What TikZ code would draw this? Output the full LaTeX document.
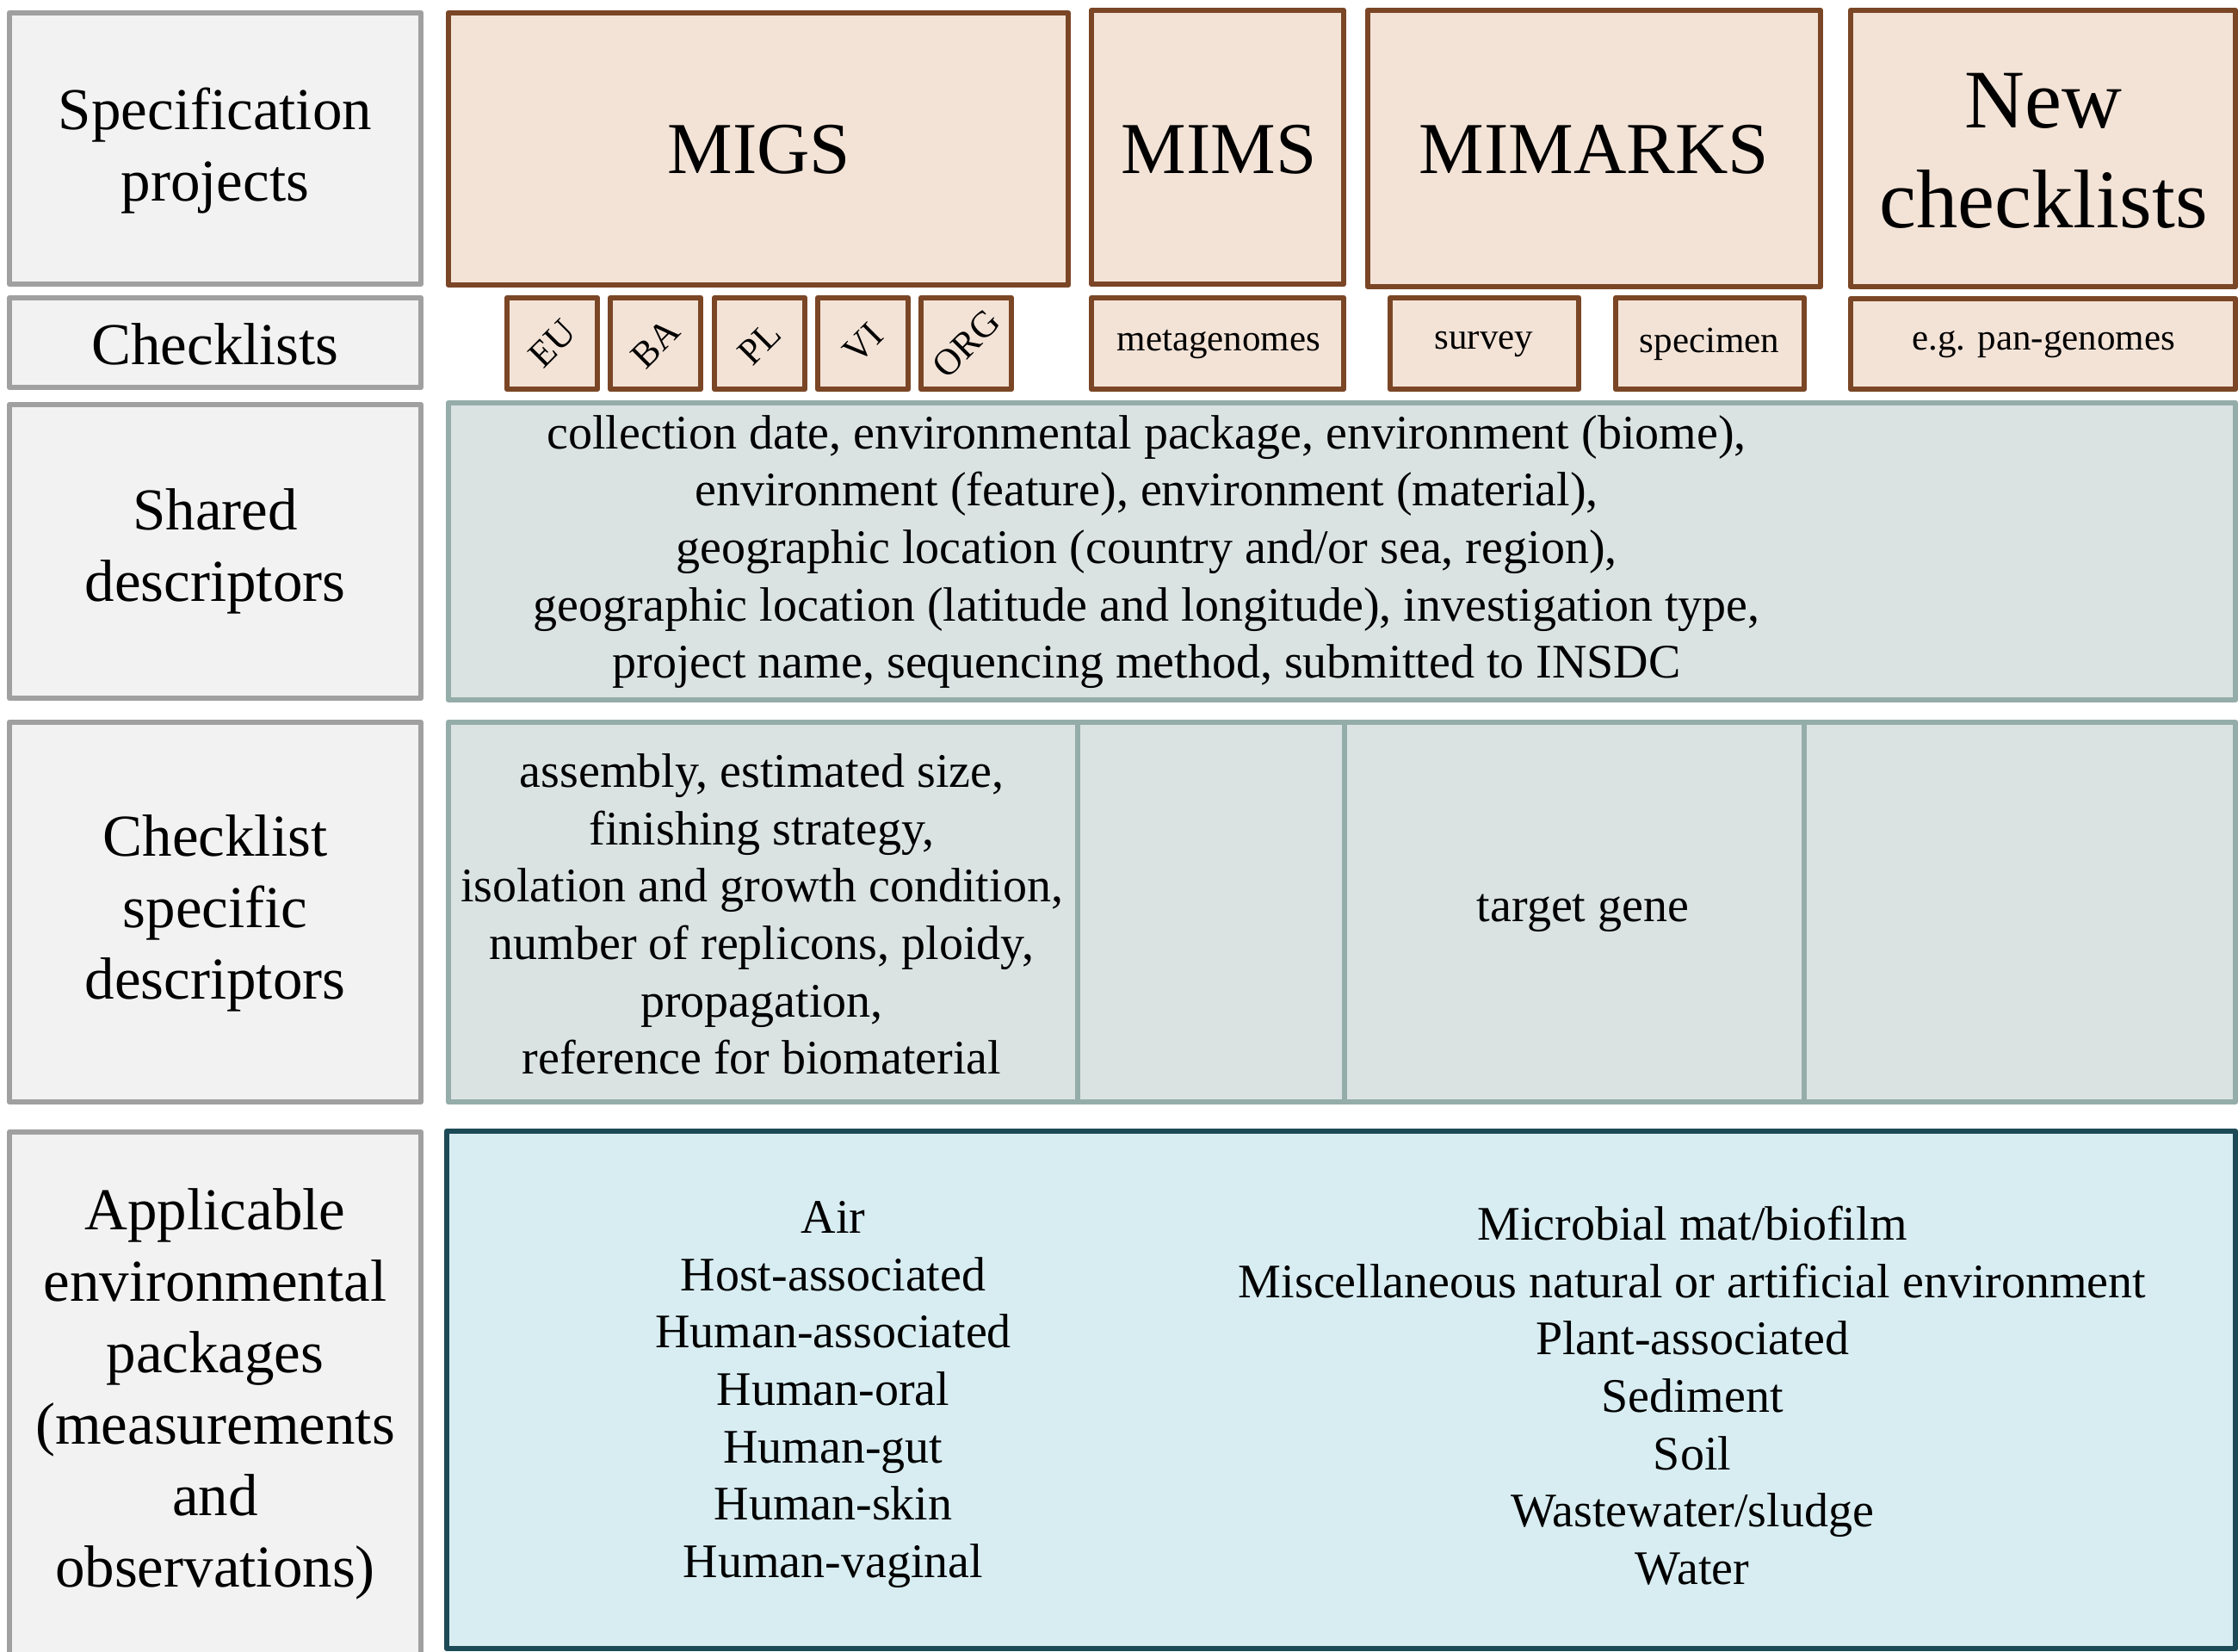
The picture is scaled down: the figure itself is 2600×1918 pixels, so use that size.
\documentclass[tikz,border=0pt]{standalone}
\usepackage{fontspec}
\setmainfont{Liberation Serif}
\usepackage{tikz}

\begin{document}
\begin{tikzpicture}[x=0.3pt,y=-0.3pt,
  rowhead/.style={draw=headDraw,line width=1.95pt,line join=round,fill=headFill},
  projbox/.style={draw=projDraw,line width=1.95pt,line join=round,fill=projFill},
  descbox/.style={draw=descDraw,line width=1.95pt,line join=round,fill=descFill},
  envbox/.style={draw=envDraw,line width=1.95pt,line join=round,fill=envFill},
  lbltext/.style={align=center,inner sep=0pt,font=\fontsize{20.7}{24.9}\selectfont},
  projtext/.style={align=center,inner sep=0pt,font=\fontsize{25.5}{30}\selectfont},
  newtext/.style={align=center,inner sep=0pt,font=\fontsize{29}{34.8}\selectfont},
  tagtext/.style={inner sep=0pt,font=\fontsize{12.9}{15}\selectfont},
  desctext/.style={align=center,inner sep=0pt,font=\fontsize{16.8}{20}\selectfont}]
\definecolor{headDraw}{RGB}{160,160,160}
\definecolor{headFill}{RGB}{242,242,242}
\definecolor{projDraw}{RGB}{122,70,38}
\definecolor{projFill}{RGB}{243,227,215}
\definecolor{descDraw}{RGB}{149,173,168}
\definecolor{descFill}{RGB}{218,227,226}
\definecolor{envDraw}{RGB}{28,74,86}
\definecolor{envFill}{RGB}{216,237,242}
\path[use as bounding box,fill=white] (0,0) rectangle (2600,1918);
\begin{scope}
\path[clip] (0,0) rectangle (2600,1918);

% row headings
\path[rowhead] (11,  15) rectangle (489, 330);
\path[rowhead] (11, 346) rectangle (489, 450);
\path[rowhead] (11, 470) rectangle (489, 811);
\path[rowhead] (11, 839) rectangle (489,1280);
\path[rowhead] (11,1315) rectangle (489,1940);

\node[lbltext] (hSpec) at (250, 175) {Specification\\projects};
\node[lbltext] (hList) at (250, 400) {Checklists};
\node[lbltext] (hShared) at (250, 640) {Shared\\descriptors};
\node[lbltext] (hSpecific) at (250,1061) {Checklist\\specific\\descriptors};
\node[lbltext] (hEnv) at (250,1619) {Applicable\\environmental\\packages\\(measurements\\and\\observations)};

% specification projects
\path[projbox] ( 521,15) rectangle (1241,331);
\path[projbox] (1268,12) rectangle (1561,330);
\path[projbox] (1589,12) rectangle (2115,333);
\path[projbox] (2150,12) rectangle (2597,333);

\node[projtext] (pMIGS) at ( 882,174) {MIGS};
\node[projtext] (pMIMS) at (1416,174) {MIMS};
\node[projtext] (pMIMARKS) at (1852,174) {MIMARKS};
\node[newtext] (pNew) at (2374,175) {New\\checklists};

% checklists
\foreach \xl/\tag in {589/EU,709/BA,830/PL,950/VI,1070/ORG}{
  \path[projbox] (\xl,346) rectangle ++(105,106);
  \node[tagtext,rotate=45] (c\tag) at (\xl+52.5,399) {\tag};
}
\path[projbox] (1268,346) rectangle (1561,452);
\path[projbox] (1615,346) rectangle (1834,452);
\path[projbox] (1877,346) rectangle (2096,452);
\path[projbox] (2150,347) rectangle (2597,452);

\node[tagtext] (cMeta) at (1416,400) {metagenomes};
\node[tagtext] (cSurvey) at (1724,400) {survey};
\node[tagtext] (cSpecimen) at (1986,400) {specimen};
\node[tagtext] (cPan) at (2374,400) {e.g. pan-genomes};

% shared descriptors
\path[descbox] (521,468) rectangle (2597,813);
\node[desctext] (dShared) at (1332,641) {collection date, environmental package, environment (biome),\\
  environment (feature), environment (material),\\
  geographic location (country and/or sea, region),\\
  geographic location (latitude and longitude), investigation type,\\
  project name, sequencing method, submitted to INSDC};

% checklist specific descriptors
\path[descbox] (521,839) rectangle (2597,1280);
\draw[descDraw,line width=1.6pt] (1252,839) -- (1252,1280);
\draw[descDraw,line width=1.6pt] (1562,839) -- (1562,1280);
\draw[descDraw,line width=1.6pt] (2096,839) -- (2096,1280);
\node[desctext] (dMIGS) at (885,1062) {assembly, estimated size,\\
  finishing strategy,\\
  isolation and growth condition,\\
  number of replicons, ploidy,\\
  propagation,\\
  reference for biomaterial};
\node[desctext] (dMIMARKS) at (1839,1061) {target gene};

% environmental packages
\path[envbox] (519,1314) rectangle (2597,1915);
\node[desctext] (eLeft) at (968,1620) {Air\\Host-associated\\Human-associated\\Human-oral\\Human-gut\\Human-skin\\Human-vaginal};
\node[desctext] (eRight) at (1966,1621) {Microbial mat/biofilm\\Miscellaneous natural or artificial environment\\Plant-associated\\Sediment\\Soil\\Wastewater/sludge\\Water};
\end{scope}
\end{tikzpicture}
\end{document}
